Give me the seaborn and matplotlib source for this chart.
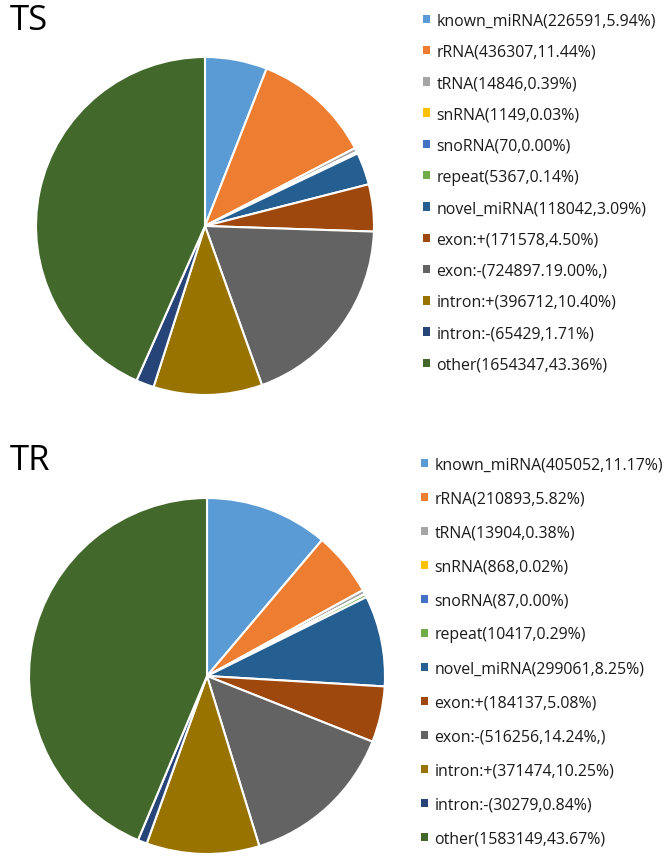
import matplotlib
matplotlib.use("Agg")
import matplotlib.pyplot as plt
import seaborn as sns

sns.set_theme(style="white")
plt.rcParams['font.family'] = ['Open Sans', 'DejaVu Sans']

categories = ["known_miRNA", "rRNA", "tRNA", "snRNA", "snoRNA", "repeat",
              "novel_miRNA", "exon:+", "exon:-", "intron:+", "intron:-", "other"]
ts_counts = [226591, 436307, 14846, 1149, 70, 5367, 118042, 171578, 724897, 396712, 65429, 1654347]
ts_labels = ["known_miRNA(226591,5.94%)", "rRNA(436307,11.44%)", "tRNA(14846,0.39%)",
             "snRNA(1149,0.03%)", "snoRNA(70,0.00%)", "repeat(5367,0.14%)",
             "novel_miRNA(118042,3.09%)", "exon:+(171578,4.50%)", "exon:-(724897.19.00%,)",
             "intron:+(396712,10.40%)", "intron:-(65429,1.71%)", "other(1654347,43.36%)"]
tr_counts = [405052, 210893, 13904, 868, 87, 10417, 299061, 184137, 516256, 371474, 30279, 1583149]
tr_labels = ["known_miRNA(405052,11.17%)", "rRNA(210893,5.82%)", "tRNA(13904,0.38%)",
             "snRNA(868,0.02%)", "snoRNA(87,0.00%)", "repeat(10417,0.29%)",
             "novel_miRNA(299061,8.25%)", "exon:+(184137,5.08%)", "exon:-(516256,14.24%,)",
             "intron:+(371474,10.25%)", "intron:-(30279,0.84%)", "other(1583149,43.67%)"]
colors = ["#5B9BD5", "#ED7D31", "#A5A5A5", "#FFC000", "#4472C4", "#70AD47",
          "#255E91", "#9E480E", "#636363", "#997300", "#264478", "#43682B"]

W, H = 666, 862
fig = plt.figure(figsize=(W / 100, H / 100), dpi=100)
fig.patch.set_facecolor("white")


def draw(cx, cy, r, counts, labels, title, title_y, leg_x, leg_top, leg_bottom):
    ax = fig.add_axes([(cx - r) / W, (H - cy - r) / H, 2 * r / W, 2 * r / H])
    wedges, _ = ax.pie(counts, colors=colors, startangle=90, counterclock=False,
                       wedgeprops=dict(edgecolor="white", linewidth=1.5))
    ax.set_xlim(-1, 1)
    ax.set_ylim(-1, 1)
    ax.set_aspect("equal")
    ax.axis("off")
    fig.text(10 / W, 1 - title_y / H, title, fontsize=25, color="black",
             va="center", ha="left")
    n = len(labels)
    step = (leg_bottom - leg_top) / (n - 1)
    fs = 11.4
    fs_px = fs * 100 / 72
    th = 16.0
    spacing = (step - th) / fs_px
    leg = fig.legend(wedges, labels, loc="upper left",
                     bbox_to_anchor=(leg_x / W, 1 - (leg_top - 5.5) / H),
                     frameon=False, fontsize=fs, handlelength=0.45, handleheight=0.45,
                     handletextpad=0.4, labelspacing=spacing, borderpad=0,
                     borderaxespad=0)
    for t in leg.get_texts():
        t.set_color("#1a1a1a")
    for h in leg.legend_handles:
        h.set_edgecolor("none")


draw(205, 227, 169, ts_counts, ts_labels, "TS", 21, 423, 19, 363)
draw(207, 677, 178, tr_counts, tr_labels, "TR", 461, 421, 463, 837)

fig.savefig("out.png", dpi=100, facecolor="white")
